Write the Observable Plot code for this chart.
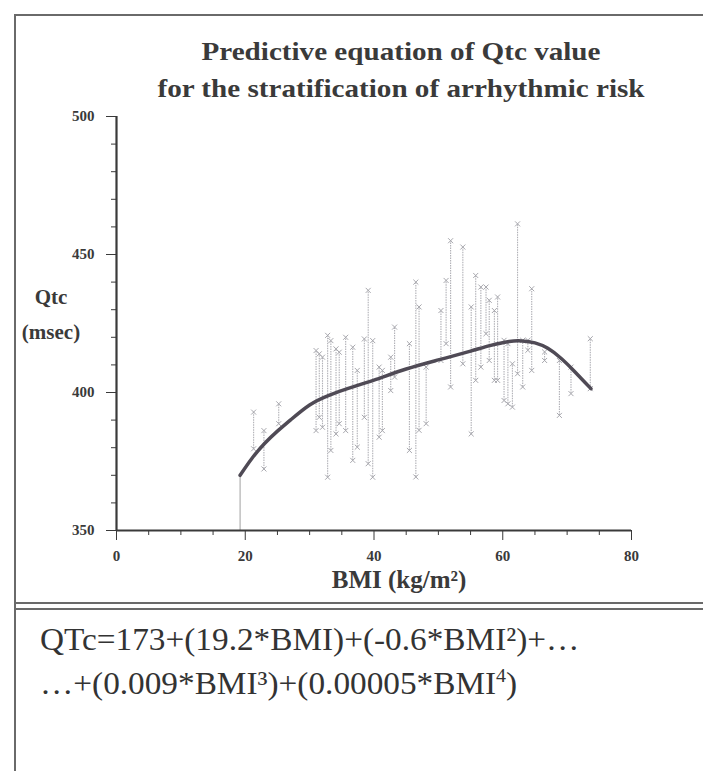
<!DOCTYPE html>
<html>
<head>
<meta charset="utf-8">
<script src="https://cdn.jsdelivr.net/npm/d3@7"></script>
<script src="https://cdn.jsdelivr.net/npm/@observablehq/plot@0.6"></script>
<style>
  html, body { margin: 0; padding: 0; background: #fff; }
  #wrap { position: relative; width: 703px; height: 771px; overflow: hidden; background: #fff; }
  .abs { position: absolute; }
  .serifb { font-family: "Liberation Serif", "DejaVu Serif", serif; font-weight: bold; color: #3a3a3a; }
  .line { position: absolute; background: #6a6a6a; }
  #title { left: 101px; width: 600px; top: 33px; text-align: center; font-size: 26px; line-height: 37px; transform: scaleX(1.12); transform-origin: 300px 0; }
  #ylab { left: 12px; width: 78px; top: 280px; text-align: center; font-size: 21px; line-height: 35px; }
  #xlab { left: 249px; width: 300px; top: 565px; text-align: center; font-size: 25px; line-height: 30px; }
  #eq { left: 40px; top: 617px; font-family: "Liberation Serif", "DejaVu Serif", serif; font-size: 32px; line-height: 44px; color: #333; white-space: nowrap; transform: scaleX(1.04); transform-origin: 0 0; }
  #eq sup { font-size: 0.6em; vertical-align: 0.65em; line-height: 0; }
  #plot { left: 0; top: 0; }
</style>
</head>
<body>
<div id="wrap">
  <div class="line" style="left:14px;top:14px;width:689px;height:2px;"></div>
  <div class="line" style="left:14px;top:14px;width:2px;height:757px;"></div>
  <div class="line" style="left:14px;top:602px;width:689px;height:2px;"></div>
  <div class="line" style="left:14px;top:608px;width:689px;height:2px;"></div>
  <div id="plot" class="abs"></div>
  <div id="title" class="abs serifb"></div>
  <div id="ylab" class="abs serifb"></div>
  <div id="xlab" class="abs serifb"></div>
  <div id="eq" class="abs"></div>
</div>
<script>
// ---- data ----
const titleLines = ["Predictive equation of Qtc value", "for the stratification of arrhythmic risk"];
const yLabelLines = ["Qtc", "(msec)"];
const xLabel = "BMI (kg/m\u00B2)";
const xTicks = [0, 20, 40, 60, 80];
const xMinorTicks = [5, 10, 15, 25, 30, 35, 45, 50, 55, 65, 70, 75];
const yTicks = [350, 400, 450, 500];
const yMinorTicks = [360, 370, 380, 390, 410, 420, 430, 440, 460, 470, 480, 490];

// fitted curve (BMI, QTc)
const curveBmi = [19.2, 21, 23, 25, 27, 30, 33, 36, 40, 45, 50, 55, 58, 61, 63, 65, 67, 69, 71, 73.7];
const curveQtc = [370, 376, 381.5, 386, 390, 395.5, 399, 401.5, 404.5, 408.5, 411.8, 415, 417, 418.5, 418.7, 418, 416, 412.5, 408, 401.4];

// observed ranges: BMI, low QTc, high QTc
const barBmi = [21.3, 22.9, 25.2, 31.0, 31.5, 32.0, 32.8, 33.3, 34.1, 34.6, 35.6, 36.7, 37.4, 38.5, 39.1, 39.8, 40.8, 41.3, 42.6, 43.2,
                45.5, 46.5, 47.0, 48.1, 50.4, 51.2, 51.9, 53.8, 55.1, 55.8, 56.6, 57.4, 57.9, 58.7, 59.2, 60.2, 60.8, 61.5, 62.3, 63.1, 63.9, 64.5, 66.5, 68.8, 70.6, 73.6];
const barLow = [379.6, 372.3, 388.7, 386.2, 391.0, 387.4, 369.3, 379.0, 385.0, 388.7, 386.2, 375.4, 380.2, 391.0, 374.2, 369.3, 383.8, 386.2, 400.7, 405.6,
                379.0, 369.4, 386.3, 388.7, 411.6, 417.7, 402.0, 410.4, 385.0, 404.4, 409.2, 421.3, 411.6, 404.4, 404.4, 397.1, 395.9, 394.7, 406.8, 402.0, 415.3, 408.0, 411.6, 391.7, 399.6, 401.4];
const barHigh = [392.9, 386.2, 395.9, 415.2, 414.0, 412.8, 420.7, 418.8, 415.8, 414.6, 420.0, 416.4, 408.0, 419.4, 437.0, 418.8, 409.2, 408.0, 412.8, 423.7,
                 417.7, 440.0, 431.0, 409.2, 429.7, 440.6, 455.0, 452.7, 431.0, 442.4, 438.2, 438.2, 433.4, 429.7, 434.6, 418.9, 417.7, 410.4, 461.1, 418.9, 418.9, 437.6, 414.7, 411.6, 409.2, 419.5];

// drop line under the start of the curve
const dropBmi = [19.2];
const dropLow = [350];
const dropHigh = [370];

const equationLine1 = "QTc=173+(19.2*BMI)+(-0.6*BMI\u00B2)+\u2026";
const equationLine2a = "\u2026+(0.009*BMI\u00B3)+(0.00005*BMI";
const equationLine2sup = "4";
const equationLine2b = ")";

// ---- build ----
const curve = curveBmi.map((b, i) => ({bmi: b, qtc: curveQtc[i]}));
const bars = barBmi.map((b, i) => ({bmi: b, lo: barLow[i], hi: barHigh[i]}));
const ends = bars.flatMap(d => [{bmi: d.bmi, q: d.lo}, {bmi: d.bmi, q: d.hi}]);
const drops = dropBmi.map((b, i) => ({bmi: b, lo: dropLow[i], hi: dropHigh[i]}));

document.getElementById("title").innerHTML = titleLines.join("<br>");
document.getElementById("ylab").innerHTML = yLabelLines.join("<br>");
document.getElementById("xlab").textContent = xLabel;
const eq = document.getElementById("eq");
eq.innerHTML = "";
const l1 = document.createElement("div"); l1.textContent = equationLine1; eq.appendChild(l1);
const l2 = document.createElement("div");
l2.appendChild(document.createTextNode(equationLine2a));
const s = document.createElement("sup"); s.textContent = equationLine2sup; l2.appendChild(s);
l2.appendChild(document.createTextNode(equationLine2b));
eq.appendChild(l2);

const axisColor = "#3a3a3a";
const tickFont = {fontFamily: "'Liberation Serif', serif", fontWeight: "bold", fontSize: 15};
const chart = Plot.plot({
  width: 703,
  height: 600,
  marginLeft: 116,
  marginRight: 72,
  marginTop: 116,
  marginBottom: 70,
  style: {fontFamily: "'Liberation Serif', serif", fontWeight: "bold", fontSize: "15px", color: axisColor, background: "transparent"},
  x: {domain: [0, 80]},
  y: {domain: [350, 500]},
  marks: [
    Plot.ruleX(drops, {x: "bmi", y1: "lo", y2: "hi", stroke: "#b0b0b0", strokeWidth: 1.2}),
    Plot.ruleX(bars, {x: "bmi", y1: "lo", y2: "hi", stroke: "#b0b0b6", strokeWidth: 1.1, strokeDasharray: "1.5,1"}),
    Plot.dot(ends, {x: "bmi", y: "q", symbol: "times", r: 2.4, stroke: "#a8a8ae", strokeWidth: 1}),
    Plot.line(curve, {x: "bmi", y: "qtc", curve: "natural", stroke: "#4f4a55", strokeWidth: 3.5, strokeLinecap: "round"}),
    Plot.axisX({ticks: xTicks, tickSize: 10, tickWidth: 2, stroke: axisColor, tickPadding: 10, tickFormat: d => String(d), label: null, ...tickFont}),
    Plot.axisX({ticks: xMinorTicks, tickSize: 5, tickWidth: 2, stroke: axisColor, text: null, label: null}),
    Plot.axisY({ticks: yTicks, tickSize: 10, tickWidth: 2, stroke: axisColor, tickPadding: 12, tickFormat: d => String(d), label: null, ...tickFont}),
    Plot.axisY({ticks: yMinorTicks, tickSize: 5, tickWidth: 2, stroke: axisColor, text: null, label: null}),
    Plot.ruleY([350], {stroke: axisColor, strokeWidth: 2.2}),
    Plot.ruleX([0], {stroke: axisColor, strokeWidth: 2.2})
  ]
});
document.getElementById("plot").appendChild(chart);
</script>
</body>
</html>
